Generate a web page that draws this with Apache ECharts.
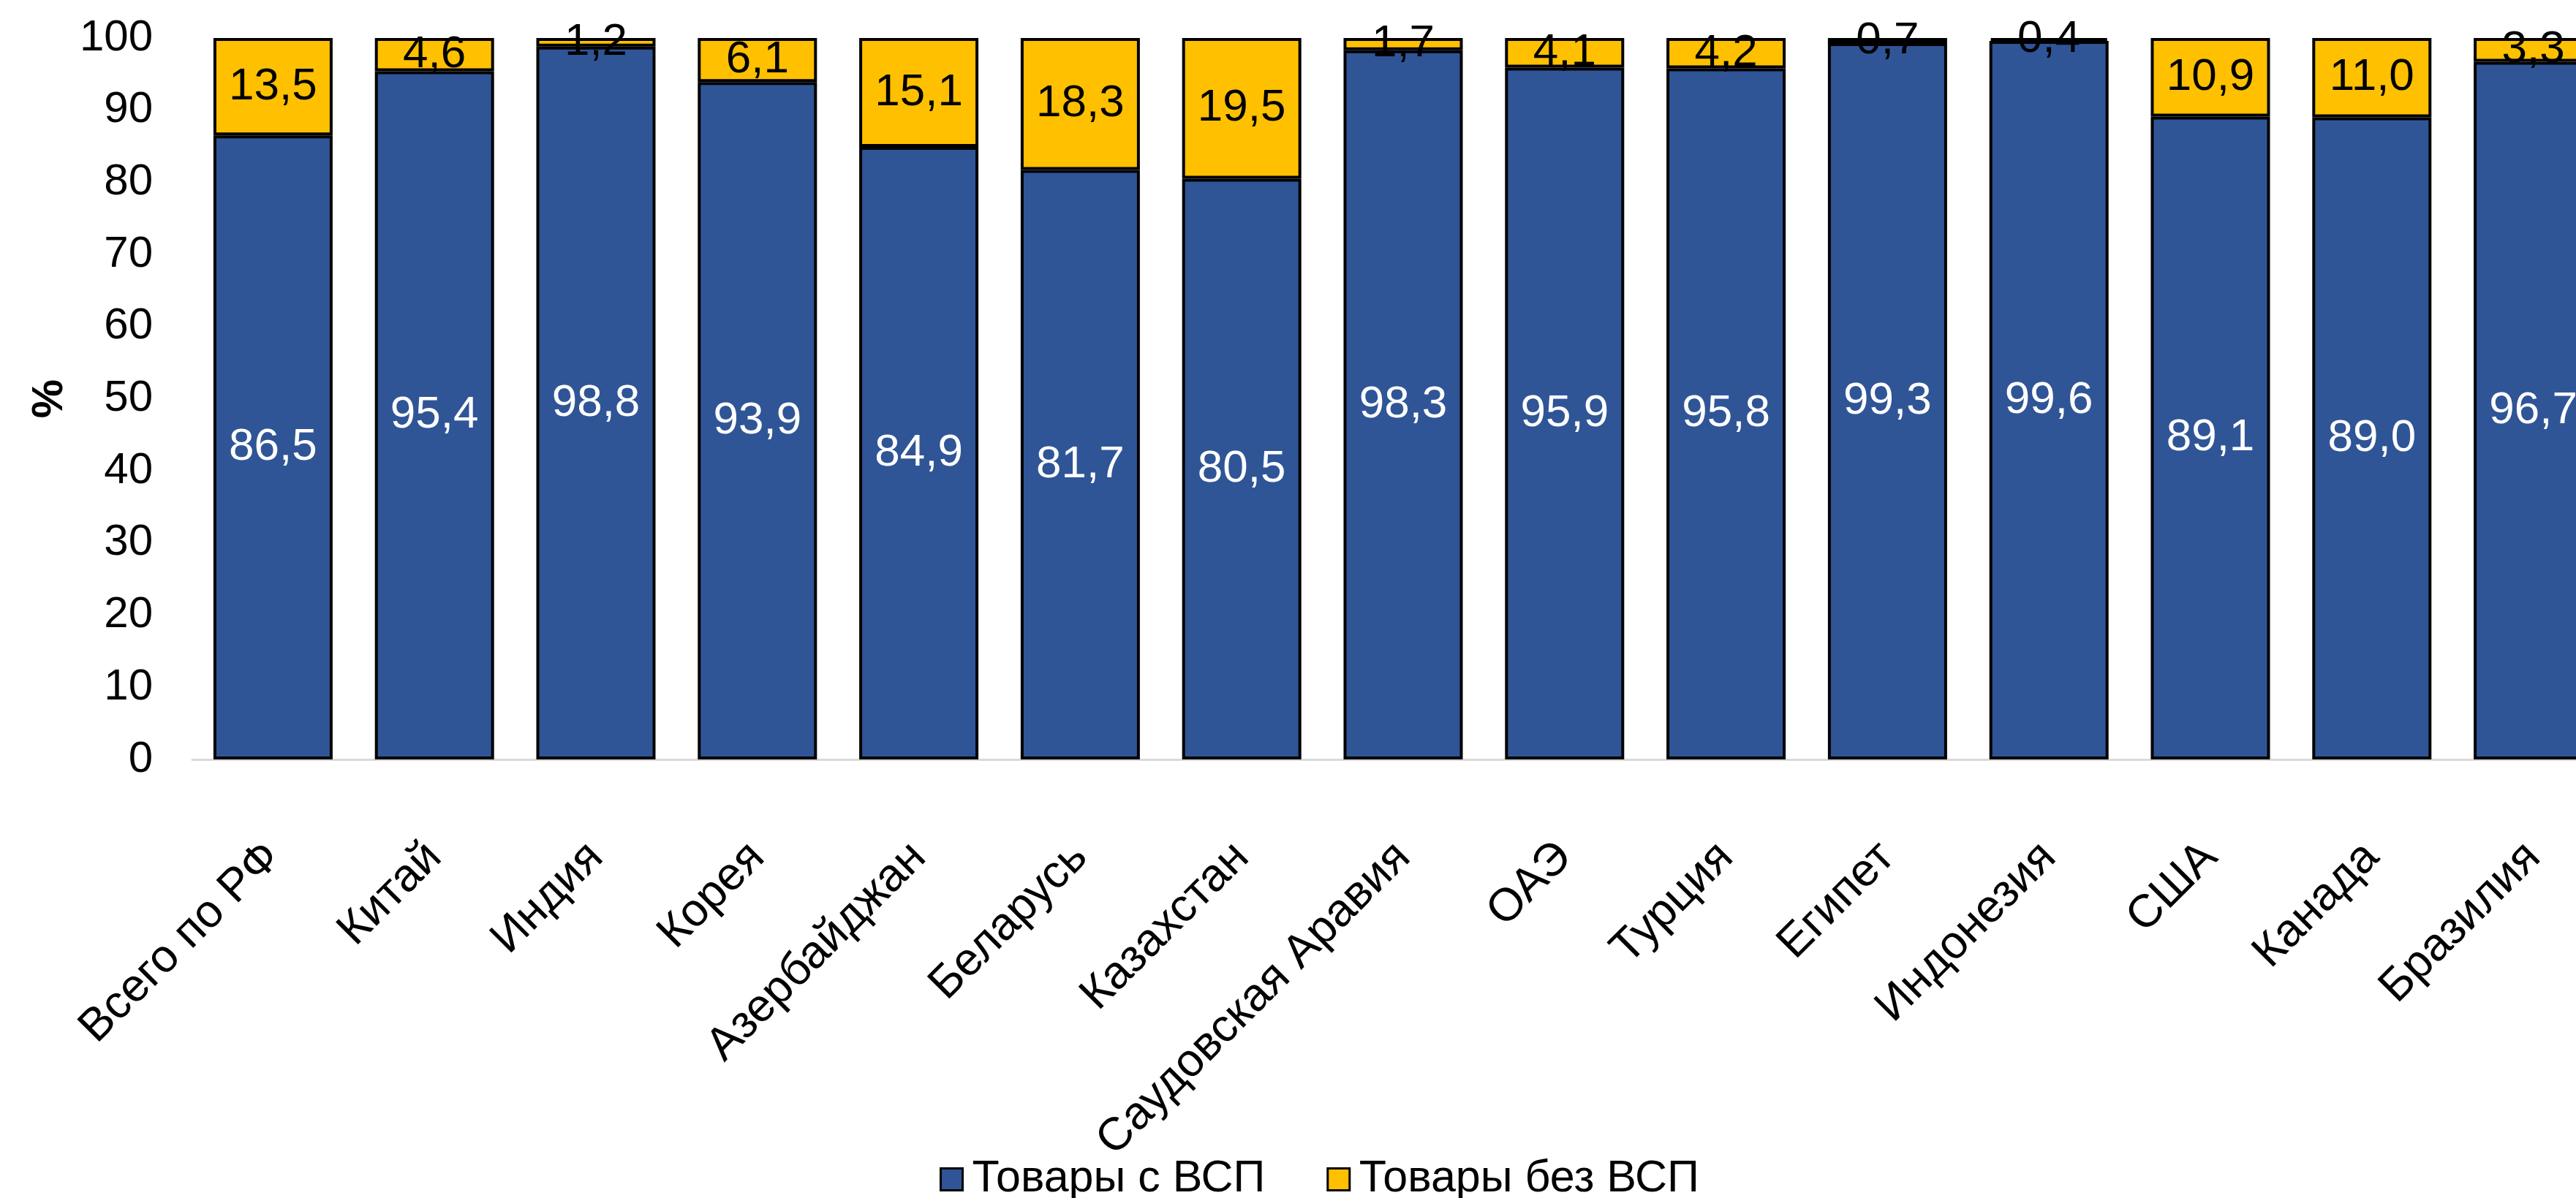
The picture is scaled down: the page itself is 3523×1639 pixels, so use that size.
<!DOCTYPE html>
<html>
<head>
<meta charset="utf-8">
<style>
html,body{margin:0;padding:0;background:#fff;overflow:hidden;width:3523px;height:1639px;}
#chart{width:3600px;height:1639px;}
</style>
<script src="https://cdn.jsdelivr.net/npm/echarts@6/dist/echarts.min.js"></script>
</head>
<body>
<div id="chart"></div>
<script>
const categories = ['Всего по РФ','Китай','Индия','Корея','Азербайджан','Беларусь','Казахстан','Саудовская Аравия','ОАЭ','Турция','Египет','Индонезия','США','Канада','Бразилия'];
const withVSP = [86.5, 95.4, 98.8, 93.9, 84.9, 81.7, 80.5, 98.3, 95.9, 95.8, 99.3, 99.6, 89.1, 89.0, 96.7];
const withoutVSP = [13.5, 4.6, 1.2, 6.1, 15.1, 18.3, 19.5, 1.7, 4.1, 4.2, 0.7, 0.4, 10.9, 11.0, 3.3];
const seriesNames = ['Товары с ВСП', 'Товары без ВСП'];
const yTicks = {min: 0, max: 100, interval: 10};

const FONT = "Arial, 'Liberation Sans', sans-serif";
const fmt = v => v.toFixed(1).replace('.', ',');

const chart = echarts.init(document.getElementById('chart'), null, {renderer: 'canvas'});
chart.setOption({
  animation: false,
  backgroundColor: '#ffffff',
  grid: {left: 263, top: 52, width: 3312, bottom: 600, containLabel: false},
  legend: {
    data: seriesNames,
    left: 1280,
    top: 1578,
    icon: 'rect',
    itemWidth: 30,
    itemHeight: 30,
    itemGap: 84,
    itemStyle: {borderColor: '#000', borderWidth: 3},
    textStyle: {fontFamily: FONT, fontSize: 61, color: '#000', padding: [0, 0, 0, 8]}
  },
  xAxis: {
    type: 'category',
    data: categories,
    axisLine: {show: true, lineStyle: {color: '#d9d9d9', width: 3}},
    axisTick: {show: false},
    axisLabel: {
      rotate: 45,
      interval: 0,
      margin: 124,
      fontFamily: FONT,
      fontSize: 63,
      color: '#000'
    }
  },
  yAxis: {
    type: 'value',
    min: yTicks.min,
    max: yTicks.max,
    interval: yTicks.interval,
    name: '%',
    nameLocation: 'middle',
    nameRotate: 90,
    nameGap: 163,
    nameTextStyle: {fontFamily: FONT, fontSize: 60, fontWeight: 'bold', color: '#000'},
    axisLine: {show: false},
    axisTick: {show: false},
    splitLine: {show: false},
    axisLabel: {margin: 54, fontFamily: FONT, fontSize: 60, color: '#000'}
  },
  series: [
    {
      name: seriesNames[0],
      type: 'bar',
      stack: 'total',
      barWidth: 163,
      data: withVSP,
      itemStyle: {color: '#2F5597', borderColor: '#000', borderWidth: 4},
      label: {show: true, position: 'inside', formatter: p => fmt(p.value), fontFamily: FONT, fontSize: 62, color: '#fff'}
    },
    {
      name: seriesNames[1],
      type: 'bar',
      stack: 'total',
      barWidth: 163,
      data: withoutVSP,
      itemStyle: {color: '#FFC000', borderColor: '#000', borderWidth: 4},
      label: {show: true, position: 'inside', formatter: p => fmt(p.value), fontFamily: FONT, fontSize: 62, color: '#000'}
    }
  ]
});
</script>
</body>
</html>
